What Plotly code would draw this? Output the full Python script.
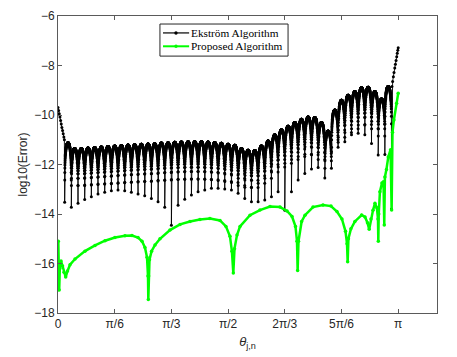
import numpy as np
import plotly.graph_objects as go

PI = np.pi

# ---------------- data ----------------
# Ekström algorithm: dips occur at theta = k*pi/51 (k = 1..50)
ek_n = 51
# peak level of each lobe between consecutive dips (49 lobes)
ek_peak = [-11.12, -11.35, -11.35, -11.33, -11.31, -11.29, -11.27, -11.25, -11.23, -11.21,
           -11.20, -11.18, -11.17, -11.16, -11.13, -11.12, -11.10, -11.09, -11.08, -11.08,
           -11.08, -11.09, -11.11, -11.14, -11.18, -11.22, -11.35, -11.42, -11.43, -11.25,
           -11.05, -10.80, -10.60, -10.45, -10.30, -10.17, -10.08, -10.10, -10.30, -10.65,
           -9.80, -9.40, -9.20, -9.05, -8.90, -8.88, -9.05, -9.35, -8.85]
# depth reached at each dip (50 dips)
ek_dip = [-13.53, -13.73, -13.57, -13.41, -13.30, -13.19, -13.12, -13.06, -13.03, -13.06,
          -13.12, -13.19, -13.26, -13.37, -13.50, -13.73, -14.45, -13.65, -13.40, -13.23,
          -13.10, -13.03, -12.96, -12.96, -12.99, -13.03, -13.16, -13.37, -13.50, -13.50,
          -13.43, -13.30, -13.10, -13.85, -13.10, -12.63, -12.36, -12.18, -12.12, -12.55,
          -11.48, -11.10, -11.08, -10.80, -10.74, -10.80, -11.15, -11.62, -11.60, -13.80]
ek_head_theta = [0.0, 0.006, 0.012, 0.018, 0.024, 0.030, 0.036, 0.042, 0.048, 0.054, 0.059]
ek_head_val = [-9.70, -9.82, -9.95, -10.08, -10.22, -10.36, -10.50, -10.63, -10.76, -10.89, -11.00]
ek_tail_theta = [3.084, 3.090, 3.097, 3.103, 3.110, 3.116, 3.122, 3.128, 3.133, 3.138, 3.1416]
ek_tail_val = [-8.85, -8.65, -8.45, -8.28, -8.10, -7.95, -7.80, -7.65, -7.50, -7.38, -7.28]

# Proposed algorithm (theta, log10 error)
pr_theta = [0.003, 0.007, 0.011, 0.017, 0.028, 0.042, 0.055, 0.071, 0.088, 0.111,
            0.157, 0.249, 0.342, 0.434, 0.526, 0.619, 0.683, 0.739, 0.776, 0.803,
            0.822, 0.831, 0.834, 0.837, 0.845, 0.864, 0.896, 0.942, 1.034, 1.127,
            1.219, 1.311, 1.403, 1.496, 1.551, 1.588, 1.606, 1.619, 1.630, 1.653,
            1.681, 1.773, 1.865, 1.958, 2.050, 2.115, 2.161, 2.193, 2.207, 2.213,
            2.221, 2.250, 2.281, 2.355, 2.447, 2.521, 2.576, 2.622, 2.655, 2.669,
            2.675, 2.682, 2.705, 2.742, 2.804, 2.835, 2.858, 2.874, 2.890, 2.909,
            2.927, 2.945, 2.955, 2.958, 2.962, 2.973, 2.992, 3.006, 3.013, 3.019,
            3.033, 3.050, 3.071, 3.081, 3.089, 3.102, 3.127, 3.1416]
pr_val = [-15.10, -16.00, -17.07, -16.20, -15.90, -16.10, -16.35, -16.55, -16.30, -16.05,
          -15.82, -15.50, -15.27, -15.08, -14.95, -14.88, -14.87, -14.95, -15.10, -15.35,
          -15.75, -16.50, -17.45, -16.50, -15.85, -15.50, -15.25, -15.00, -14.65, -14.42,
          -14.30, -14.22, -14.18, -14.26, -14.50, -14.90, -15.50, -16.38, -15.40, -14.85,
          -14.50, -14.05, -13.84, -13.70, -13.72, -13.88, -14.10, -14.50, -15.10, -16.28,
          -15.10, -14.30, -14.05, -13.72, -13.64, -13.68, -13.90, -14.20, -14.70, -15.20,
          -15.93, -15.00, -14.60, -14.30, -14.04, -14.12, -14.35, -14.62, -14.20, -13.85,
          -13.57, -13.75, -14.20, -15.10, -14.00, -13.10, -12.75, -12.70, -14.44, -12.50,
          -12.20, -11.70, -11.40, -13.84, -10.70, -10.20, -9.53, -9.12]

series_names = ["Ekström Algorithm", "Proposed Algorithm"]
series_colors = ["#000000", "#00ff00"]

x_tickvals = [0, PI / 6, PI / 3, PI / 2, 2 * PI / 3, 5 * PI / 6, PI]
x_ticktext = ["0", "π/6", "π/3", "π/2", "2π/3", "5π/6", "π"]
y_tickvals = [-18, -16, -14, -12, -10, -8, -6]

# ---------------- build Ekström trace from lobe table ----------------
M = 100
ek_x = list(ek_head_theta)
ek_y = list(ek_head_val)
step = PI / ek_n
for k in range(1, len(ek_dip) + 1):
    a = k * step
    ek_x.append(a)
    ek_y.append(ek_dip[k - 1])
    if k - 1 < len(ek_peak):
        t = np.arange(1, M) / M
        ek_x.extend((a + t * step).tolist())
        ek_y.extend((ek_peak[k - 1] + np.log10(np.sin(PI * t))).tolist())
ek_x.extend(ek_tail_theta)
ek_y.extend(ek_tail_val)

fig = go.Figure()
fig.add_trace(go.Scatter(
    x=ek_x, y=ek_y, mode="lines+markers", name=series_names[0],
    line=dict(color=series_colors[0], width=0.9),
    marker=dict(color=series_colors[0], size=3, symbol="circle"),
))
fig.add_trace(go.Scatter(
    x=pr_theta, y=pr_val, mode="lines+markers", name=series_names[1],
    line=dict(color=series_colors[1], width=2.5),
    marker=dict(color=series_colors[1], size=3.5, symbol="circle"),
))

# ---------------- legend box (MATLAB style) ----------------
shapes = [dict(type="rect", xref="paper", yref="paper", x0=0.269, x1=0.607, y0=0.865, y1=0.973,
               line=dict(color="#262626", width=1), fillcolor="white", layer="above")]
annotations = []
leg_rows = [0.943, 0.898]
for name, col, yy in zip(series_names, series_colors, leg_rows):
    shapes.append(dict(type="line", xref="paper", yref="paper", x0=0.277, x1=0.346, y0=yy, y1=yy,
                       line=dict(color=col, width=1.2 if col == "#000000" else 2), layer="above"))
    shapes.append(dict(type="circle", xref="paper", yref="paper", xsizemode="pixel", ysizemode="pixel",
                       xanchor=0.3113, yanchor=yy, x0=-1.7, x1=1.7, y0=-1.7, y1=1.7,
                       fillcolor=col, line=dict(color=col, width=0), layer="above"))
    annotations.append(dict(text=name, xref="paper", yref="paper", x=0.345, y=yy,
                            xanchor="left", yanchor="middle", showarrow=False,
                            font=dict(family="Liberation Serif, Times New Roman, serif", size=11.3, color="black")))

axis_common = dict(
    showline=True, linecolor="#5a5a5a", linewidth=1, mirror="ticks",
    ticks="inside", ticklen=4, tickcolor="#5a5a5a", tickwidth=1,
    showgrid=False, zeroline=False, automargin=False,
    tickfont=dict(family="Liberation Sans, Arial, sans-serif", size=12, color="#262626"),
)

# page body keeps an 8px browser margin, so the figure is 8px smaller
fig.update_layout(
    width=449, height=349,
    margin=dict(l=50, r=20, t=8, b=44, autoexpand=False),
    paper_bgcolor="white", plot_bgcolor="white",
    xaxis=dict(range=[0, 3.5], tickvals=x_tickvals, ticktext=x_ticktext,
               title=dict(text="<i>θ</i><sub>j,n</sub>", standoff=6,
                          font=dict(family="Liberation Sans, Arial, sans-serif", size=13, color="#262626")),
               **axis_common),
    yaxis=dict(range=[-18, -6], tickvals=y_tickvals,
               title=dict(text="log10(Error)", standoff=4,
                          font=dict(family="Liberation Sans, Arial, sans-serif", size=12, color="#262626")),
               **axis_common),
    shapes=shapes,
    annotations=annotations,
    showlegend=False,
)

fig.write_html("out.html")
